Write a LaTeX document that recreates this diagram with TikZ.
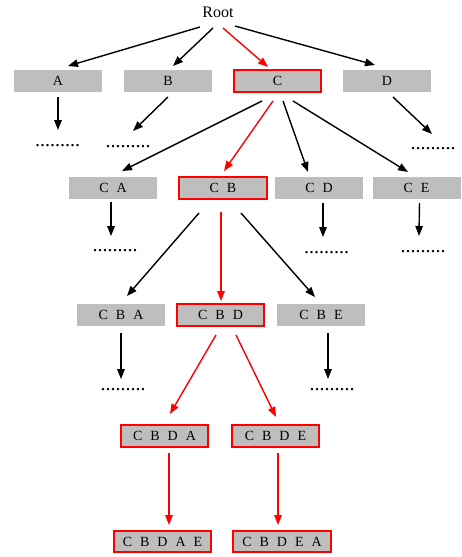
\documentclass[tikz,border=0pt]{standalone}
\usepackage{fontspec}
\setmainfont{Liberation Serif}
\usetikzlibrary{arrows.meta}
\definecolor{boxgray}{RGB}{190,190,190}
\newcommand{\gp}{\hspace{8pt}}
\tikzset{
  box/.style={rectangle, fill=boxgray, minimum width=88pt, minimum height=22pt, inner sep=0pt, font=\fontsize{14}{16}\selectfont},
  hbox/.style={box, draw=red, line width=1.5pt, minimum width=87pt},
  wide/.style={minimum width=97pt, minimum height=21pt},
  dots/.style={anchor=base, inner sep=0pt, font=\fontsize{20}{22}\selectfont},
  arr/.style={line width=1.4pt, -{Triangle[length=10pt,width=7.5pt]}},
  rarr/.style={arr, red},
}
\begin{document}
\begin{tikzpicture}[x=1pt,y=-1pt]
\useasboundingbox (0,0) rectangle (461,557);
\node[inner sep=0pt, font=\fontsize{16}{18}\selectfont] (root) at (218,12) {Root};
% row 1
\node[box]  (A) at (58,81) {A};
\node[box]  (B) at (168,81) {B};
\node[hbox] (C) at (277.5,81) {C};
\node[box]  (D) at (387,81) {D};
% row 2
\node[box]  (CA) at (113,188) {C\gp A};
\node[hbox, minimum width=88pt] (CB) at (223,188) {C\gp B};
\node[box]  (CD) at (319,188) {C\gp D};
\node[box]  (CE) at (416.5,188) {C\gp E};
% row 3
\node[box]  (CBA) at (121,315) {C\gp B\gp A};
\node[hbox] (CBD) at (220.5,315) {C\gp B\gp D};
\node[box]  (CBE) at (321,315) {C\gp B\gp E};
% row 4
\node[hbox] (CBDA) at (164.5,436) {C\gp B\gp D\gp A};
\node[hbox] (CBDE) at (275.5,436) {C\gp B\gp D\gp E};
% row 5
\node[hbox, wide] (CBDAE) at (162.5,541.5) {C\gp B\gp D\gp A\gp E};
\node[hbox, wide, minimum width=98pt] (CBDEA) at (282,541.5) {C\gp B\gp D\gp E\gp A};
% dots
\node[dots] (dA)   at (57.5,146) {.........};
\node[dots] (dB)   at (128,147) {.........};
\node[dots] (dD)   at (433,149) {.........};
\node[dots] (dCA)  at (115,251) {.........};
\node[dots] (dCD)  at (326.5,253) {.........};
\node[dots] (dCE)  at (423,252) {.........};
\node[dots] (dCBA) at (123,390.5) {.........};
\node[dots] (dCBE) at (332,390.5) {.........};
% connectors
\draw[arr]  ([shift={(-18,15)}]root.center) -- ([shift={(10,-15)}]A.center);
\draw[arr]  ([shift={(-5,16)}]root.center) -- ([shift={(5,-15)}]B.center);
\draw[rarr] ([shift={(5,16)}]root.center) -- ([shift={(-9.5,-14)}]C.center);
\draw[arr]  ([shift={(17,14)}]root.center) -- ([shift={(-12,-16)}]D.center);
\draw[arr]  ([shift={(0,16)}]A.center) -- ([shift={(0.5,-16)}]dA.base);
\draw[arr]  ([shift={(0,16)}]B.center) -- ([shift={(5,-16)}]dB.base);
\draw[arr]  ([shift={(6,16)}]D.center) -- ([shift={(-1,-15)}]dD.base);
\draw[arr]  ([shift={(-15.5,20)}]C.center) -- ([shift={(9,-17)}]CA.center);
\draw[rarr] ([shift={(-4.5,20)}]C.center) -- ([shift={(1,-17)}]CB.center);
\draw[arr]  ([shift={(5.5,20)}]C.center) -- ([shift={(-11,-16)}]CD.center);
\draw[arr]  ([shift={(15.5,20)}]C.center) -- ([shift={(-8.5,-16)}]CE.center);
\draw[arr]  ([shift={(-2,14)}]CA.center) -- ([shift={(-4,-15)}]dCA.base);
\draw[arr]  ([shift={(4,15)}]CD.center) -- ([shift={(-3.5,-16)}]dCD.base);
\draw[arr]  ([shift={(3,15)}]CE.center) -- ([shift={(-4,-16)}]dCE.base);
\draw[arr]  ([shift={(-24,25)}]CB.center) -- ([shift={(6,-19)}]CBA.center);
\draw[rarr] ([shift={(-2,24)}]CB.center) -- ([shift={(0.5,-14)}]CBD.center);
\draw[arr]  ([shift={(18,25)}]CB.center) -- ([shift={(-6,-18)}]CBE.center);
\draw[arr]  ([shift={(0,18)}]CBA.center) -- ([shift={(-2,-11.5)}]dCBA.base);
\draw[arr]  ([shift={(7,18)}]CBE.center) -- ([shift={(-4,-11.5)}]dCBE.base);
\draw[rarr] ([shift={(-4.5,20)}]CBD.center) -- ([shift={(5.5,-22)}]CBDA.center);
\draw[rarr] ([shift={(15.5,20)}]CBD.center) -- ([shift={(0.5,-19)}]CBDE.center);
\draw[rarr] ([shift={(4.5,17)}]CBDA.center) -- ([shift={(6.5,-16.5)}]CBDAE.center);
\draw[rarr] ([shift={(2.5,17)}]CBDE.center) -- ([shift={(-4,-16.5)}]CBDEA.center);
\end{tikzpicture}
\end{document}
